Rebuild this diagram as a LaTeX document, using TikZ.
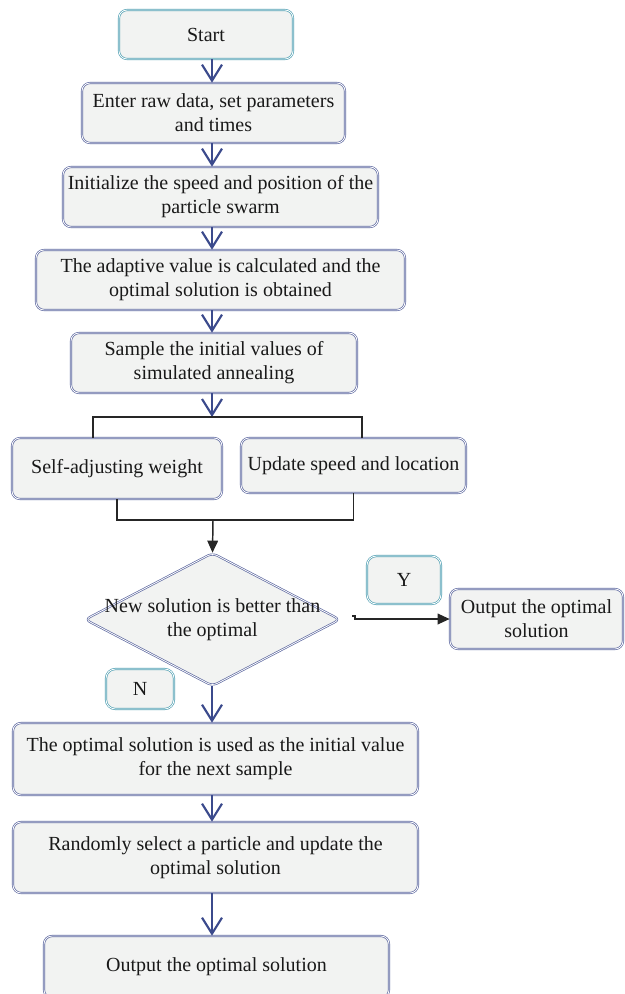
\documentclass[tikz,border=0pt]{standalone}
\usepackage{fontspec}
\setmainfont{Liberation Serif}
\usepackage{tikz}
\usetikzlibrary{arrows.meta, shapes.geometric, calc}
\newdimen\px \px=0.75pt
\definecolor{cajafill}{HTML}{F2F3F2}
\definecolor{cajaline}{HTML}{5A659E}
\definecolor{tealline}{HTML}{4E9FB2}
\definecolor{flowblue}{HTML}{3B4A8C}

\begin{document}
\begin{tikzpicture}[
  x=0.75pt, y=-0.75pt,
  font=\fontsize{15}{18}\selectfont,
  box/.style={rectangle, rounded corners=6pt, draw=cajaline, double=white,
              double distance=0.6pt, line width=0.5pt, fill=cajafill,
              inner sep=0pt, align=center, text=black!90},
  termbox/.style={box, draw=tealline},
  tagbox/.style={box, draw=tealline, rounded corners=7pt},
  decision/.style={diamond, rounded corners=4pt, draw=cajaline, double=white,
              double distance=0.6pt, line width=0.5pt, fill=cajafill, inner sep=0pt},
  flow/.style={flowblue, line width=1pt,
               -{Straight Barb[length=12pt, width=15pt, line width=1.6pt]}},
  link/.style={black!85, line width=1.1pt},
  arr/.style={link, -{Triangle[length=9pt, width=8pt]}}
]
\useasboundingbox (0,0) rectangle (624,994);
\coordinate (ax) at (212,0);

% ---- Inicio y preparacion ----
\node[termbox, minimum width=174\px, minimum height=49\px] (start) at (206,34.5) {Start};
\node[box, minimum width=263\px, minimum height=60\px] (input) at (213.5,113)
  {Enter raw data, set parameters\\and times};
\node[box, minimum width=315\px, minimum height=60\px] (init) at (220.5,197)
  {Initialize the speed and position of the\\particle swarm};
\node[box, minimum width=369\px, minimum height=60\px] (fitness) at (220.5,280)
  {The adaptive value is calculated and the\\optimal solution is obtained};
\node[box, minimum width=286\px, minimum height=60\px] (sample) at (214,363)
  {Sample the initial values of\\simulated annealing};
\draw[flow] (start.south -| ax) -- (input.north -| ax);
\draw[flow] (input.south -| ax) -- (init.north -| ax);
\draw[flow] (init.south -| ax) -- (fitness.north -| ax);
\draw[flow] (fitness.south -| ax) -- (sample.north -| ax);

% ---- Ramas en paralelo ----
\node[box, minimum width=210\px, minimum height=61\px] (weight) at (117,468.5) {Self-adjusting weight};
\node[box, minimum width=225\px, minimum height=55\px] (update) at (353.5,465.5) {Update speed and location};
\coordinate (split) at (212,417);
\coordinate (jl) at (93,417);
\coordinate (jr) at (362,417);
\coordinate (merge) at (213,520);
\draw[flow] (sample.south -| ax) -- (split);
\draw[link] (weight.north -| jl) -- (jl) -- (jr) -- (update.north -| jr);
\draw[link] (weight.south) |- (merge) -| (update.south);

% ---- Decision ----
\node[decision, minimum width=255\px, minimum height=133\px] (better) at (212.5,619.5) {};
\node[align=center, text=black!90] (bettertxt) at (better) {New solution is better than\\the optimal};
\node[tagbox, minimum width=74\px, minimum height=48\px] (yes) at (404,580) {Y};
\node[box, minimum width=173\px, minimum height=60\px] (best) at (536.5,619) {Output the optimal\\solution};
\node[tagbox, minimum width=68\px, minimum height=40\px] (no) at (140,689) {N};
\coordinate (yst) at (352,616);
\draw[arr] (merge) -- (better.north);
\draw[arr] (yst) -- ++(3,0) |- (best.west);

% ---- Recocido simulado ----
\node[box, minimum width=405\px, minimum height=72\px] (reuse) at (215.5,759)
  {The optimal solution is used as the initial value\\for the next sample};
\node[box, minimum width=405\px, minimum height=71\px] (pick) at (215.5,857.5)
  {Randomly select a particle and update the\\optimal solution};
\node[box, minimum width=345\px, minimum height=62\px] (final) at (216.5,967) {Output the optimal solution};
\draw[flow] (better.south -| ax) -- (reuse.north -| ax);
\draw[flow] (reuse.south -| ax) -- (pick.north -| ax);
\draw[flow] (pick.south -| ax) -- (final.north -| ax);
\end{tikzpicture}
\end{document}
